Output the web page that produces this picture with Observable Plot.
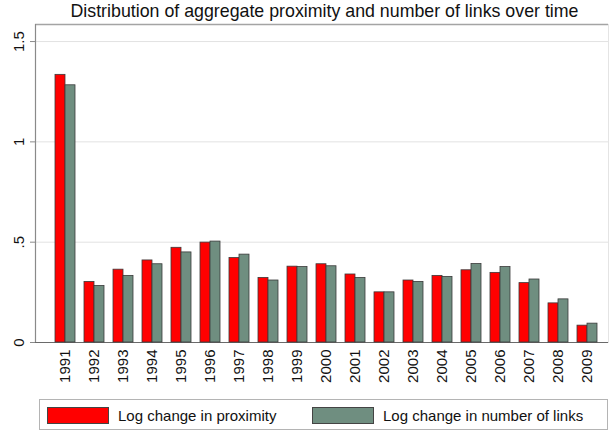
<!DOCTYPE html>
<html>
<head>
<meta charset="utf-8">
<script src="https://cdn.jsdelivr.net/npm/d3@7"></script>
<script src="https://cdn.jsdelivr.net/npm/@observablehq/plot@0.6"></script>
<style>
  body { margin: 0; background: #fff; font-family: "Liberation Sans", Arial, sans-serif; color: #111; }
  #wrap { position: relative; width: 610px; height: 434px; overflow: hidden; }
  #title { position: absolute; left: 38px; width: 573px; top: 1px; text-align: center; font-size: 17.8px; line-height: 20px; white-space: nowrap; }
  .layer { position: absolute; left: 0; top: 0; }
  #legend { position: absolute; left: 39px; top: 399px; width: 567px; height: 29px; border: 1.5px solid #b4b4b4; }
  .item { position: absolute; top: 7px; height: 17px; display: flex; align-items: center; font-size: 15px; white-space: nowrap; }
  .sw { width: 60px; height: 15px; border: 1px solid #444; margin-right: 9px; }
</style>
</head>
<body>
<div id="wrap">
  <div id="title"></div>
  <div id="under" class="layer"></div>
  <div id="over" class="layer"></div>
  <div id="legend"></div>
</div>
<script>
const title = "Distribution of aggregate proximity and number of links over time";
const years = ["1991","1992","1993","1994","1995","1996","1997","1998","1999","2000",
               "2001","2002","2003","2004","2005","2006","2007","2008","2009"];
const proximity = [1.334, 0.302, 0.363, 0.409, 0.472, 0.498, 0.421, 0.322, 0.378, 0.390,
                   0.339, 0.250, 0.309, 0.332, 0.360, 0.347, 0.296, 0.195, 0.084];
const links = [1.282, 0.282, 0.332, 0.390, 0.449, 0.503, 0.438, 0.309, 0.376, 0.380,
               0.322, 0.250, 0.302, 0.327, 0.391, 0.376, 0.314, 0.215, 0.094];
const seriesNames = ["Log change in proximity", "Log change in number of links"];
const seriesColors = ["#ff0000", "#6f8e80"];
const yTicks = [0, 0.5, 1, 1.5];
const yTickLabels = ["0", ".5", "1", "1.5"];
const yMax = 1.585;

const table = years.flatMap((yr, i) => [
  {year: yr, series: seriesNames[0], value: proximity[i]},
  {year: yr, series: seriesNames[1], value: links[i]}
]);

const W = 610, H = 396;
const margins = {marginTop: 24, marginBottom: 54, marginLeft: 35, marginRight: 2};
const font = {fontFamily: "'Liberation Sans', Arial, sans-serif", fontSize: "15px", color: "#111", background: "transparent"};

document.getElementById("title").textContent = title;

const under = Plot.plot({
  width: W, height: H, ...margins,
  style: font,
  x: {domain: [0, 1], axis: null},
  y: {domain: [0, yMax], axis: null},
  marks: [
    Plot.ruleY(yTicks.filter(d => d > 0), {stroke: "#e2e2e2", strokeWidth: 1}),
    Plot.frame({stroke: "#e4e4e4"}),
    Plot.ruleY([yMax], {stroke: "#a4a4a4", strokeWidth: 1.5}),
    Plot.ruleX([0], {stroke: "#8a8a8a", strokeWidth: 1.2}),
    Plot.ruleY([0], {stroke: "#6a6a6a", strokeWidth: 1.2}),
    Plot.axisY({
      ticks: yTicks,
      tickFormat: d => yTickLabels[yTicks.indexOf(d)],
      tickSize: 5, tickRotate: -90, tickPadding: 7,
      stroke: "#8a8a8a", fontSize: 15, label: null
    })
  ]
});
document.getElementById("under").appendChild(under);

const over = Plot.plot({
  width: W, height: H, ...margins,
  style: font,
  fx: {domain: years, range: [49.5, 600.5], padding: 0, label: null,
       axis: "bottom", tickRotate: -90, tickSize: 0, tickPadding: 7},
  x: {domain: seriesNames, paddingInner: 0, paddingOuter: 0.35, axis: null},
  y: {domain: [0, yMax], axis: null},
  color: {domain: seriesNames, range: seriesColors},
  marks: [
    Plot.barY(table, {fx: "year", x: "series", y: "value", fill: "series", stroke: "#3a3a3a", strokeWidth: 0.8})
  ]
});
document.getElementById("over").appendChild(over);

const legend = document.getElementById("legend");
const lefts = [7, 272];
seriesNames.forEach((name, i) => {
  const item = document.createElement("div");
  item.className = "item";
  item.style.left = lefts[i] + "px";
  const sw = document.createElement("div");
  sw.className = "sw";
  sw.style.background = seriesColors[i];
  const lab = document.createElement("span");
  lab.textContent = name;
  item.appendChild(sw);
  item.appendChild(lab);
  legend.appendChild(item);
});
</script>
</body>
</html>
